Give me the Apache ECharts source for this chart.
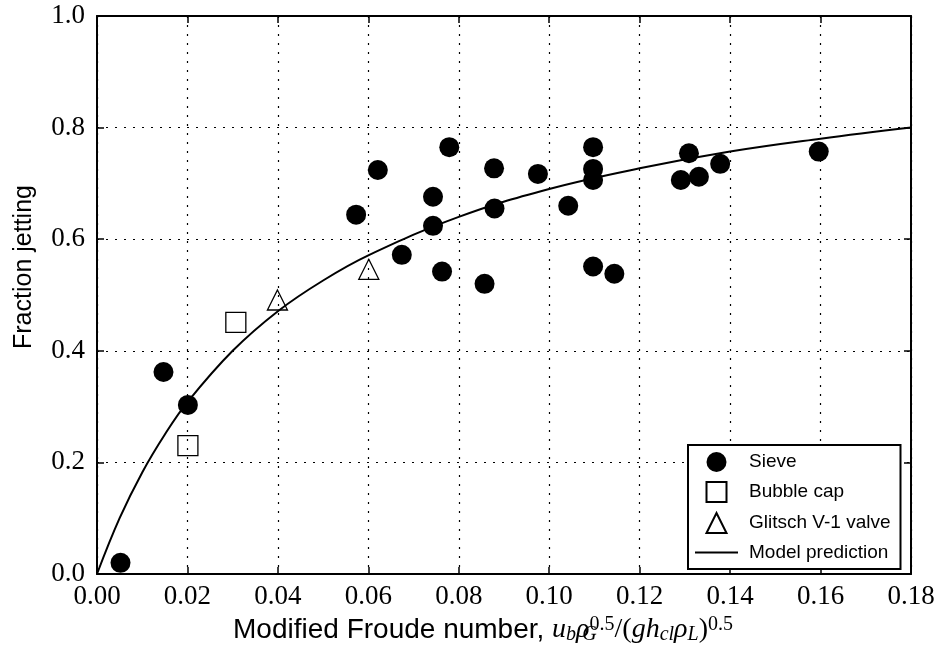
<!DOCTYPE html>
<html>
<head>
<meta charset="utf-8">
<script src="https://cdn.jsdelivr.net/npm/echarts@6/dist/echarts.min.js"></script>
<style>html,body{margin:0;padding:0;background:#fff;}#chart{width:938px;height:654px;}</style>
</head>
<body>
<div id="chart"></div>
<script>
// Sieve trays
const sieveX = [0.0052,0.0147,0.0201,0.0573,0.0621,0.0674,0.0743,0.0743,0.0763,0.0779,0.0857,0.0878,0.0879,0.0975,0.1042,0.1097,0.1097,0.1097,0.1097,0.1144,0.1291,0.1309,0.1331,0.1378,0.1596];
const sieveY = [0.020,0.362,0.303,0.644,0.724,0.572,0.676,0.624,0.542,0.765,0.520,0.727,0.655,0.717,0.660,0.765,0.726,0.706,0.551,0.538,0.706,0.754,0.712,0.735,0.757];
// Bubble cap trays
const bubbleX = [0.0201,0.0307];
const bubbleY = [0.230,0.451];
// Glitsch V-1 valve trays
const valveX = [0.0399,0.0601];
const valveY = [0.491,0.546];
// Model prediction curve
const modelX = [0,0.005,0.01,0.015,0.02,0.03,0.04,0.05,0.06,0.08,0.10,0.12,0.14,0.16,0.18];
const modelY = [0,0.100,0.182,0.250,0.308,0.400,0.471,0.526,0.571,0.640,0.690,0.727,0.757,0.780,0.800];
// axes
const xMin = 0, xMax = 0.18, xStep = 0.02;
const yMin = 0, yMax = 1.0, yStep = 0.2;

const zip = (a, b) => a.map((v, i) => [v, b[i]]);
const tickFont = {fontFamily: 'Liberation Serif', fontSize: 27, color: '#000'};
const dotted = {color: '#000', width: 1.2, type: [2, 7]};

const chart = echarts.init(document.getElementById('chart'), null, {renderer: 'canvas'});
chart.setOption({
  animation: false,
  backgroundColor: '#fff',
  grid: {left: 97, right: 27, top: 16, bottom: 80, containLabel: false},
  xAxis: [{
    type: 'value', min: xMin, max: xMax, interval: xStep, position: 'bottom',
    axisLine: {show: true, onZero: false, lineStyle: {color: '#000', width: 2}},
    axisTick: {show: true, inside: true, length: 7, lineStyle: {color: '#000', width: 1.5}},
    axisLabel: Object.assign({margin: 9, formatter: v => v.toFixed(2), showMinLabel: true, showMaxLabel: true}, tickFont),
    splitLine: {show: true, lineStyle: dotted},
    name: '{t|Modified Froude number, }{m|u}{b|b}{m|ρ}{z|G}{p|0.5}{r|/(}{m|gh}{b|cl}{m|ρ}{b|L}{r|)}{p|0.5}',
    nameLocation: 'middle', nameGap: 35,
    nameTextStyle: {
      padding: [0, 42, 0, 0],
      rich: {
        t: {fontFamily: 'Liberation Sans', fontSize: 28, color: '#000', lineHeight: 30},
        m: {fontFamily: 'Liberation Serif', fontStyle: 'italic', fontSize: 28, color: '#000', lineHeight: 30},
        r: {fontFamily: 'Liberation Serif', fontSize: 28, color: '#000', lineHeight: 30},
        b: {fontFamily: 'Liberation Serif', fontStyle: 'italic', fontSize: 20, color: '#000', lineHeight: 16, verticalAlign: 'bottom'},
        z: {fontFamily: 'Liberation Serif', fontStyle: 'italic', fontSize: 20, color: '#000', lineHeight: 16, verticalAlign: 'bottom', width: 0},
        p: {fontFamily: 'Liberation Serif', fontSize: 20, color: '#000', lineHeight: 16, verticalAlign: 'top'}
      }
    }
  }, {
    type: 'value', min: xMin, max: xMax, interval: xStep, position: 'top',
    axisLine: {show: true, onZero: false, lineStyle: {color: '#000', width: 2}},
    axisTick: {show: true, inside: true, length: 7, lineStyle: {color: '#000', width: 1.5}},
    axisLabel: {show: false}, splitLine: {show: false}
  }],
  yAxis: [{
    type: 'value', min: yMin, max: yMax, interval: yStep, position: 'left',
    axisLine: {show: true, onZero: false, lineStyle: {color: '#000', width: 2}},
    axisTick: {show: true, inside: true, length: 7, lineStyle: {color: '#000', width: 1.5}},
    axisLabel: Object.assign({margin: 12, formatter: v => v.toFixed(1), showMinLabel: true, showMaxLabel: true}, tickFont),
    splitLine: {show: true, lineStyle: dotted},
    name: 'Fraction jetting', nameLocation: 'middle', nameGap: 60,
    nameTextStyle: {fontFamily: 'Liberation Sans', fontSize: 25, color: '#000', padding: [0, 0, 0, 56]}
  }, {
    type: 'value', min: yMin, max: yMax, interval: yStep, position: 'right',
    axisLine: {show: true, onZero: false, lineStyle: {color: '#000', width: 2}},
    axisTick: {show: true, inside: true, length: 7, lineStyle: {color: '#000', width: 1.5}},
    axisLabel: {show: false}, splitLine: {show: false}
  }],
  legend: {
    orient: 'vertical', left: 688, top: 445,
    itemWidth: 43, itemHeight: 20, itemGap: 9,
    padding: [7, 10, 7, 7],
    borderColor: '#000', borderWidth: 2, backgroundColor: '#fff',
    selectedMode: false, symbolKeepAspect: true,
    textStyle: {fontFamily: 'Liberation Sans', fontSize: 19, color: '#000', padding: [0, 0, 0, 6]},
    data: [
      {name: 'Sieve', icon: 'circle'},
      {name: 'Bubble cap', icon: 'path://M0,0H1V1H0Z'},
      {name: 'Glitsch V-1 valve', icon: 'path://M0.5,0L1,1H0Z'},
      {name: 'Model prediction', icon: 'path://M0,0H43V1.8H0Z', itemStyle: {color: '#000', borderWidth: 0}}
    ]
  },
  series: [{
    name: 'Model prediction', type: 'line', data: zip(modelX, modelY),
    smooth: 0.4, symbol: 'none', showSymbol: false,
    lineStyle: {color: '#000', width: 2}, itemStyle: {color: '#000'}, z: 3
  }, {
    name: 'Sieve', type: 'scatter', data: zip(sieveX, sieveY),
    symbol: 'circle', symbolSize: 20, itemStyle: {color: '#000', opacity: 1}, z: 4
  }, {
    name: 'Bubble cap', type: 'scatter', data: zip(bubbleX, bubbleY),
    symbol: 'rect', symbolSize: 20,
    itemStyle: {color: 'rgba(255,255,255,0)', borderColor: '#000', borderWidth: 1.3, opacity: 1}, z: 4
  }, {
    name: 'Glitsch V-1 valve', type: 'scatter', data: zip(valveX, valveY),
    symbol: 'triangle', symbolSize: 20,
    itemStyle: {color: 'rgba(255,255,255,0)', borderColor: '#000', borderWidth: 1.3, opacity: 1}, z: 4
  }]
});
</script>
</body>
</html>
